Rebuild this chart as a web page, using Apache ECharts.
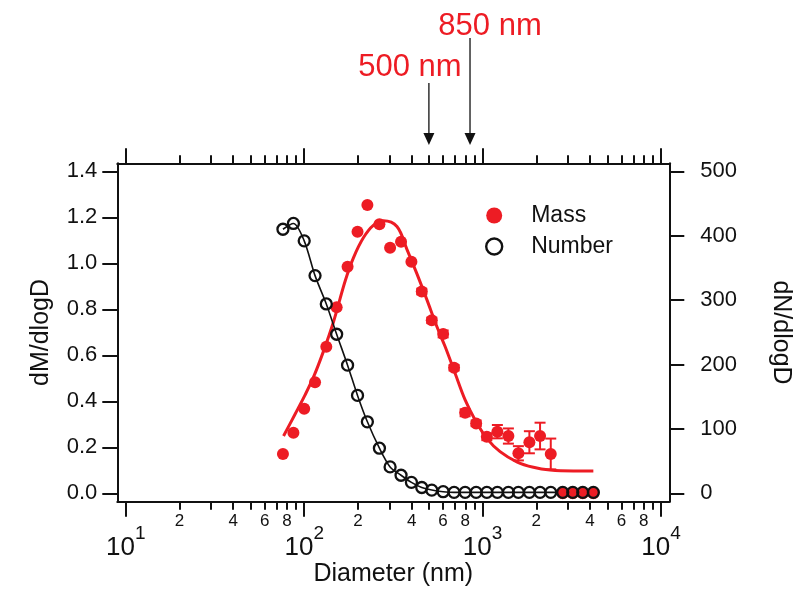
<!DOCTYPE html>
<html>
<head>
<meta charset="utf-8">
<script src="https://cdn.jsdelivr.net/npm/echarts@6/dist/echarts.min.js"></script>
<style>
  html, body { margin: 0; padding: 0; background: #fff; }
  #chart { width: 793px; height: 591px; }
</style>
</head>
<body>
<div id="chart"></div>
<script>
// Size bins (nm) shared by the mass and number distributions
const diameter = [76, 87, 100, 115, 133, 152, 175, 199, 226, 264, 303, 349, 399, 456, 519,
                  601, 692, 798, 920, 1056, 1210, 1395, 1587, 1829, 2099, 2410, 2812, 3201, 3642, 4176];

// Mass distribution dM/dlogD (left axis)
const massValues = [0.171, 0.263, 0.368, 0.483, 0.637, 0.809, 0.985, 1.137, 1.253, 1.170,
                    1.068, 1.094, 1.007, 0.877, 0.752, 0.693, 0.546, 0.350, 0.304, 0.246,
                    0.268, 0.249, 0.174, 0.222, 0.249, 0.171, 0, 0, 0, 0];

// Half-width of the mass error bars (null = no bar drawn)
const massErrors = [null, null, null, null, null, null, null, null, null, null,
                    null, null, null, 0.012, 0.012, 0.015, 0.012, 0.015, 0.012, 0.015,
                    0.029, 0.033, 0.031, 0.048, 0.058, 0.067, null, null, null, null];

// Number distribution dN/dlogD (right axis)
const numberValues = [410, 419, 392, 338, 294, 247, 199, 152, 111, 70,
                      41, 28, 17, 9, 5, 2.5, 1.5, 1.5, 1.5, 1.5,
                      1.5, 1.5, 1.5, 1.5, 1.5, 1.5, 1.5, 1.5, 1.5, 1.5];

// Log-normal fit of the mass distribution
const fitDiameter = [76.6, 89, 101, 113, 128, 146, 170, 189, 215, 244, 278, 331, 376, 428,
                     487, 554, 617, 701, 798, 908, 1056, 1253, 1554, 1926, 2388, 3227, 4176];
const fitMass = [0.249, 0.345, 0.427, 0.507, 0.616, 0.746, 0.925, 1.025, 1.112, 1.165, 1.185,
                 1.160, 1.062, 0.955, 0.842, 0.725, 0.637, 0.522, 0.406, 0.319, 0.239, 0.181,
                 0.137, 0.113, 0.101, 0.097, 0.097];

// Tick positions
const decadeTicks = [10, 100, 1000, 10000];
const minorTicks = [20, 30, 40, 50, 60, 70, 80, 90,
                    200, 300, 400, 500, 600, 700, 800, 900,
                    2000, 3000, 4000, 5000, 6000, 7000, 8000, 9000];
const minorLabelTicks = [20, 40, 60, 80, 200, 400, 600, 800, 2000, 4000, 6000, 8000];
const massTicks = [0, 0.2, 0.4, 0.6, 0.8, 1.0, 1.2, 1.4];
const numberTicks = [0, 100, 200, 300, 400, 500];

// Cut-off sizes marked above the plot
const cutoffValues = [500, 850];
const cutoffLabels = ['500 nm', '850 nm'];

const RED = '#ed1c24';
const INK = '#111111';
const FONT = '"Liberation Sans", Arial, sans-serif';
const X_MIN = 8.96, X_MAX = 11130;

const chart = echarts.init(document.getElementById('chart'), null, { renderer: 'canvas' });

const axisLineStyle = { show: true, onZero: false, lineStyle: { color: INK, width: 2 } };
const hiddenLine = { show: false, onZero: false };

function logAxis(extra) {
  return Object.assign({
    type: 'log', logBase: 10, min: X_MIN, max: X_MAX, gridIndex: 0,
    splitLine: { show: false }, minorTick: { show: false },
    axisLine: hiddenLine,
    axisPointer: { show: false }
  }, extra);
}

const option = {
  animation: false,
  backgroundColor: '#ffffff',
  textStyle: { fontFamily: FONT, color: INK },
  grid: { left: 117.3, right: 123.7, top: 163.3, bottom: 89.3, containLabel: false, outerBoundsMode: 'none' },
  legend: {
    orient: 'vertical', left: 480, top: 199, itemWidth: 16, itemHeight: 16, itemGap: 8,
    selectedMode: false,
    textStyle: { fontFamily: FONT, fontSize: 23, color: INK, padding: [0, 0, 0, 24] },
    data: [
      { name: 'Mass', icon: 'circle', itemStyle: { color: RED, borderWidth: 0 } },
      { name: 'Number', icon: 'circle',
        itemStyle: { color: 'rgba(0,0,0,0)', borderColor: INK, borderWidth: 2.4 } }
    ]
  },
  xAxis: [
    logAxis({
      position: 'bottom', axisLine: axisLineStyle,
      name: 'Diameter (nm)', nameLocation: 'middle', nameGap: 60, nameMoveOverlap: false,
      nameTextStyle: { fontFamily: FONT, fontSize: 25, color: INK },
      axisTick: { show: true, inside: false, length: 15, customValues: decadeTicks,
                  lineStyle: { color: INK, width: 2 } },
      axisLabel: {
        show: true, margin: 23, customValues: decadeTicks, hideOverlap: false,
        formatter: function (v) { return '{b|10}{s|' + Math.round(Math.log10(v)) + '}'; },
        rich: {
          b: { fontFamily: FONT, fontSize: 26, color: INK, verticalAlign: 'bottom', padding: [10, 0, 0, 0] },
          s: { fontFamily: FONT, fontSize: 19, color: INK, verticalAlign: 'top' }
        }
      }
    }),
    logAxis({
      position: 'bottom',
      axisTick: { show: true, inside: false, length: 8, customValues: minorTicks,
                  lineStyle: { color: INK, width: 2 } },
      axisLabel: {
        show: true, margin: 11, customValues: minorLabelTicks, hideOverlap: false,
        fontFamily: FONT, fontSize: 17, color: INK,
        formatter: function (v) { return String(Math.round(v)).charAt(0); }
      }
    }),
    logAxis({
      position: 'top', axisLine: axisLineStyle,
      axisTick: { show: true, inside: false, length: 15, customValues: decadeTicks,
                  lineStyle: { color: INK, width: 2 } },
      axisLabel: { show: false }
    }),
    logAxis({
      position: 'top',
      axisTick: { show: true, inside: false, length: 8, customValues: minorTicks,
                  lineStyle: { color: INK, width: 2 } },
      axisLabel: { show: false }
    })
  ],
  yAxis: [
    {
      type: 'value', position: 'left', min: -0.0365, max: 1.4348,
      axisLine: axisLineStyle, splitLine: { show: false }, axisPointer: { show: false },
      name: 'dM/dlogD', nameLocation: 'middle', nameGap: 64, nameRotate: 90, nameMoveOverlap: false,
      nameTextStyle: { fontFamily: FONT, fontSize: 25, color: INK },
      axisTick: { show: true, inside: false, length: 15, customValues: massTicks,
                  lineStyle: { color: INK, width: 2 } },
      axisLabel: { show: true, margin: 20, customValues: massTicks, fontFamily: FONT,
                   fontSize: 22, color: INK, formatter: function (v) { return v.toFixed(1); } }
    },
    {
      type: 'value', position: 'right', min: -13.04, max: 512.4,
      axisLine: axisLineStyle, splitLine: { show: false }, axisPointer: { show: false },
      name: 'dN/dlogD', nameLocation: 'middle', nameGap: 99, nameRotate: -90, nameMoveOverlap: false,
      nameTextStyle: { fontFamily: FONT, fontSize: 25, color: INK },
      axisTick: { show: true, inside: false, length: 15, customValues: numberTicks,
                  lineStyle: { color: INK, width: 2 } },
      axisLabel: { show: true, margin: 31, customValues: numberTicks, fontFamily: FONT,
                   fontSize: 22, color: INK }
    }
  ],
  series: [
    {
      name: 'Mass fit', type: 'line', xAxisIndex: 0, yAxisIndex: 0, z: 2,
      data: fitDiameter.map(function (d, i) { return [d, fitMass[i]]; }),
      smooth: 0.35, showSymbol: false, symbol: 'none',
      lineStyle: { color: RED, width: 3 }, silent: true
    },
    {
      name: 'Number fit', type: 'line', xAxisIndex: 0, yAxisIndex: 1, z: 3,
      data: diameter.map(function (d, i) { return [d, numberValues[i]]; }),
      smooth: 0.3, showSymbol: false, symbol: 'none',
      lineStyle: { color: INK, width: 1.6 }, silent: true
    },
    {
      name: 'Mass error', type: 'custom', xAxisIndex: 0, yAxisIndex: 0, z: 4,
      encode: { x: 0, y: [1, 2] }, silent: true,
      data: diameter.map(function (d, i) {
        return massErrors[i] == null ? null : [d, massValues[i] - massErrors[i], massValues[i] + massErrors[i]];
      }).filter(function (r) { return r !== null; }),
      renderItem: function (params, api) {
        const top = api.coord([api.value(0), api.value(2)]);
        const bot = api.coord([api.value(0), api.value(1)]);
        const w = 5.5;
        const st = { stroke: RED, lineWidth: 2 };
        return {
          type: 'group',
          children: [
            { type: 'line', shape: { x1: top[0], y1: top[1], x2: bot[0], y2: bot[1] }, style: st },
            { type: 'line', shape: { x1: top[0] - w, y1: top[1], x2: top[0] + w, y2: top[1] }, style: st },
            { type: 'line', shape: { x1: bot[0] - w, y1: bot[1], x2: bot[0] + w, y2: bot[1] }, style: st }
          ]
        };
      }
    },
    {
      name: 'Mass', type: 'scatter', xAxisIndex: 0, yAxisIndex: 0, z: 4,
      data: diameter.map(function (d, i) { return [d, massValues[i]]; }),
      symbol: 'circle', symbolSize: 12,
      itemStyle: { color: RED, opacity: 1 }
    },
    {
      name: 'Number', type: 'scatter', xAxisIndex: 0, yAxisIndex: 1, z: 5,
      data: diameter.map(function (d, i) { return [d, numberValues[i]]; }),
      symbol: 'circle', symbolSize: 11,
      itemStyle: { color: 'rgba(0,0,0,0)', borderColor: INK, borderWidth: 2.3, opacity: 1 }
    }
  ]
};

chart.setOption(option);

// Arrows and labels for the cut-off sizes, placed through the diameter axis
const arrowTops = [83, 38];
const labelOffsets = [{ dx: -19, y: 67 }, { dx: 20, y: 26 }];
const graphics = [];
cutoffValues.forEach(function (v, i) {
  const x = chart.convertToPixel({ xAxisIndex: 0 }, v);
  graphics.push({
    type: 'line', shape: { x1: x, y1: arrowTops[i], x2: x, y2: 136 },
    style: { stroke: INK, lineWidth: 1.3 }, silent: true
  });
  graphics.push({
    type: 'polygon', shape: { points: [[x - 5.5, 133], [x + 5.5, 133], [x, 145]] },
    style: { fill: INK }, silent: true
  });
  graphics.push({
    type: 'text', x: x + labelOffsets[i].dx, y: labelOffsets[i].y, silent: true,
    style: { text: cutoffLabels[i], fill: RED, font: '31px ' + FONT,
             textAlign: 'center', textVerticalAlign: 'middle' }
  });
});
chart.setOption({ graphic: graphics });
</script>
</body>
</html>
